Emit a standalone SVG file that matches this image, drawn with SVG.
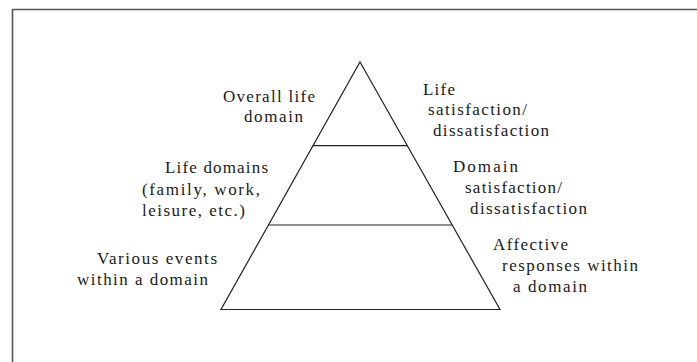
<svg xmlns="http://www.w3.org/2000/svg" width="697" height="362" viewBox="0 0 697 362">
<style>
.t{font-family:"Liberation Serif","Times New Roman",serif;font-size:17px;fill:#1a1a1a}
.ln{stroke:#222;stroke-width:1.2;fill:none}
</style>
<rect x="0" y="0" width="697" height="362" fill="#fff"/>
<g id="frame"><path d="M12.5,362 V9.5 H697" fill="none" stroke="#555" stroke-width="1.6"/></g>
<g id="pyramid">
<polygon class="ln" points="360,62 500,309.5 221,309.5"/>
</g>
<g id="connectors">
<line class="ln" x1="312.6" y1="145.7" x2="407.4" y2="145.7"/>
<line class="ln" x1="268" y1="225" x2="452" y2="225"/>
</g>
<g id="overall-life-domain">
<text class="t" x="223" y="102" textLength="92" lengthAdjust="spacing">Overall life</text>
<text class="t" x="244" y="122" textLength="59" lengthAdjust="spacing">domain</text>
</g>
<g id="life-satisfaction">
<text class="t" x="423" y="95" textLength="32" lengthAdjust="spacing">Life</text>
<text class="t" x="428" y="115" textLength="99" lengthAdjust="spacing">satisfaction/</text>
<text class="t" x="433" y="136" textLength="116" lengthAdjust="spacing">dissatisfaction</text>
</g>
<g id="life-domains">
<text class="t" x="165" y="173" textLength="103" lengthAdjust="spacing">Life domains</text>
<text class="t" x="142" y="195" textLength="118" lengthAdjust="spacing">(family, work,</text>
<text class="t" x="142" y="216" textLength="103" lengthAdjust="spacing">leisure, etc.)</text>
</g>
<g id="domain-satisfaction">
<text class="t" x="453" y="172" textLength="65" lengthAdjust="spacing">Domain</text>
<text class="t" x="465" y="193" textLength="97" lengthAdjust="spacing">satisfaction/</text>
<text class="t" x="470" y="214" textLength="117" lengthAdjust="spacing">dissatisfaction</text>
</g>
<g id="various-events">
<text class="t" x="97" y="264" textLength="120" lengthAdjust="spacing">Various events</text>
<text class="t" x="77" y="285" textLength="131" lengthAdjust="spacing">within a domain</text>
</g>
<g id="affective-responses">
<text class="t" x="493" y="250" textLength="75" lengthAdjust="spacing">Affective</text>
<text class="t" x="502" y="271" textLength="136" lengthAdjust="spacing">responses within</text>
<text class="t" x="513" y="292" textLength="74" lengthAdjust="spacing">a domain</text>
</g>
</svg>
